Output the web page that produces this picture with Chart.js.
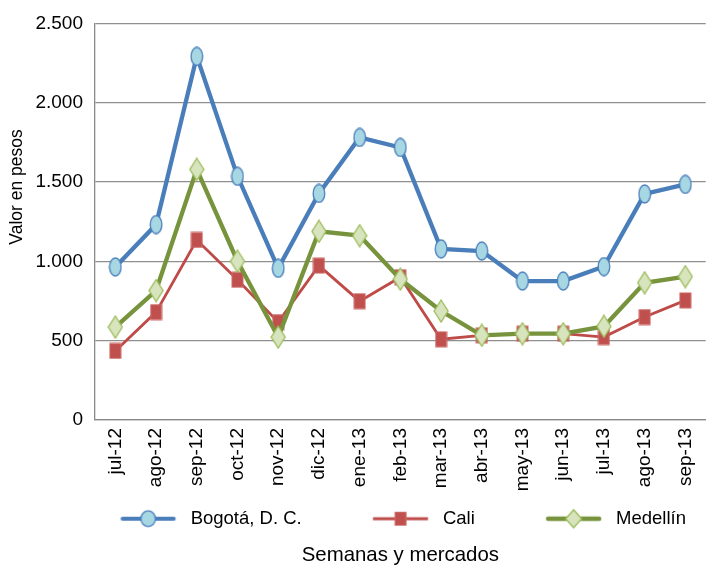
<!DOCTYPE html>
<html>
<head>
<meta charset="utf-8">
<script src="https://cdn.jsdelivr.net/npm/chart.js@4.4.1/dist/chart.umd.min.js"></script>
<style>
  html, body { margin: 0; padding: 0; background: #ffffff; overflow: hidden; width: 712px; height: 566px; }
  #wrap { width: 717px; height: 566px; }
</style>
</head>
<body>
<div id="wrap"><canvas id="c" width="717" height="566"></canvas></div>
<script>
// ---- data ----
const categories = ['jul-12','ago-12','sep-12','oct-12','nov-12','dic-12','ene-13','feb-13','mar-13','abr-13','may-13','jun-13','jul-13','ago-13','sep-13'];
const bogota   = [965, 1232, 2292, 1536, 956, 1428, 1781, 1718, 1079, 1065, 876, 876, 967, 1425, 1485];
const cali     = [435, 680, 1135, 884, 617, 973, 749, 900, 509, 534, 544, 544, 523, 649, 754];
const medellin = [586, 816, 1580, 1001, 523, 1189, 1162, 888, 687, 534, 544, 544, 590, 865, 904];
const seriesNames = ['Bogotá, D. C.', 'Cali', 'Medellín'];
const yTickLabels = ['0', '500', '1.000', '1.500', '2.000', '2.500'];
const yAxisTitle = 'Valor en pesos';
const xAxisTitle = 'Semanas y mercados';

const FONT = '"Liberation Sans", Arial, sans-serif';

// ---- marker images (style only) ----
function makeCanvas(w, h) { const c = document.createElement('canvas'); c.width = w; c.height = h; return c; }
function drawEllipse(ctx, cx, cy, rx, ry, fill, stroke, lw) {
  ctx.beginPath(); ctx.ellipse(cx, cy, rx, ry, 0, 0, Math.PI * 2);
  ctx.fillStyle = fill; ctx.fill(); ctx.lineWidth = lw; ctx.strokeStyle = stroke; ctx.stroke();
}
function drawRect(ctx, cx, cy, w, h, fill, stroke, lw) {
  ctx.fillStyle = fill; ctx.fillRect(cx - w / 2, cy - h / 2, w, h);
  ctx.lineWidth = lw; ctx.strokeStyle = stroke; ctx.strokeRect(cx - w / 2, cy - h / 2, w, h);
}
function drawDiamond(ctx, cx, cy, w, h, fill, stroke, lw) {
  ctx.beginPath(); ctx.moveTo(cx, cy - h / 2); ctx.lineTo(cx + w / 2, cy); ctx.lineTo(cx, cy + h / 2); ctx.lineTo(cx - w / 2, cy); ctx.closePath();
  ctx.fillStyle = fill; ctx.fill(); ctx.lineWidth = lw; ctx.strokeStyle = stroke; ctx.stroke();
}
const COL = {
  bLine: '#4A7EBB', bFill: '#A7D7E3',
  cLine: '#BE4B48', cFill: '#C0504D', cBorder: '#CC6A67',
  mLine: '#77933C', mFill: '#D7E4BD', mBorder: '#9BBB59'
};
// data point markers
const ptB = makeCanvas(14, 20); drawEllipse(ptB.getContext('2d'), 7, 10, 5.8, 9, COL.bFill, COL.bLine, 1.3);
const ptC = makeCanvas(13, 17); drawRect(ptC.getContext('2d'), 6.5, 8.5, 11, 15, COL.cFill, COL.cBorder, 1);
const ptM = makeCanvas(16, 24); drawDiamond(ptM.getContext('2d'), 8, 12, 14, 22, COL.mFill, COL.mBorder, 1.3);

// legend symbols: line + marker, drawn at right part of box
const LEG_W = 101;
function legendSymbol(kind) {
  const c = makeCanvas(LEG_W, 24); const ctx = c.getContext('2d');
  const x0 = LEG_W - 60.75, x1 = LEG_W - 5.75, cy = 12, mid = (x0 + x1) / 2;
  ctx.lineCap = 'round';
  if (kind === 0) {
    ctx.strokeStyle = COL.bLine; ctx.lineWidth = 4.2; ctx.beginPath(); ctx.moveTo(x0 + 2, cy); ctx.lineTo(x1 - 2, cy); ctx.stroke();
    drawEllipse(ctx, mid, cy, 7.3, 7.8, COL.bFill, COL.bLine, 1.3);
  } else if (kind === 1) {
    ctx.lineCap = 'butt';
    ctx.strokeStyle = COL.cLine; ctx.lineWidth = 3.2; ctx.beginPath(); ctx.moveTo(x0, cy); ctx.lineTo(x1, cy); ctx.stroke();
    drawRect(ctx, mid, cy, 11, 13, COL.cFill, COL.cBorder, 1);
  } else {
    ctx.strokeStyle = COL.mLine; ctx.lineWidth = 4.5; ctx.beginPath(); ctx.moveTo(x0 + 2, cy); ctx.lineTo(x1 - 2, cy); ctx.stroke();
    drawDiamond(ctx, mid, cy, 16, 18, COL.mFill, COL.mBorder, 1.3);
  }
  return c;
}
const legendSymbols = [legendSymbol(0), legendSymbol(1), legendSymbol(2)];

// y axis title drawn as rotated text
const yTitlePlugin = {
  id: 'yTitle',
  afterDraw(chart) {
    const ctx = chart.ctx;
    ctx.save();
    ctx.translate(17, 187);
    ctx.rotate(-Math.PI / 2);
    ctx.font = '17.5px ' + FONT;
    ctx.fillStyle = '#000000';
    ctx.textAlign = 'center';
    ctx.textBaseline = 'middle';
    ctx.fillText(yAxisTitle, 0, 0);
    ctx.restore();
  }
};

new Chart(document.getElementById('c'), {
  type: 'line',
  data: {
    labels: categories,
    datasets: [
      { label: seriesNames[0], data: bogota, order: 1, borderColor: COL.bLine, borderWidth: 4.3, pointStyle: ptB, pointRadius: 7, tension: 0 },
      { label: seriesNames[1], data: cali, order: 3, borderColor: COL.cLine, borderWidth: 2.8, pointStyle: ptC, pointRadius: 7, tension: 0 },
      { label: seriesNames[2], data: medellin, order: 2, borderColor: COL.mLine, borderWidth: 4.3, pointStyle: ptM, pointRadius: 7, tension: 0 }
    ]
  },
  options: {
    responsive: false,
    animation: false,
    layout: { padding: { top: 22, left: 0, right: 0, bottom: 0 } },
    scales: {
      x: {
        offset: true,
        grid: { display: true, color: 'rgba(0,0,0,0)', drawTicks: false, offset: true },
        border: { display: true, color: '#8a8a8a', width: 1.3 },
        ticks: { autoSkip: false, minRotation: 90, maxRotation: 90, padding: 8, color: '#000000', font: { family: FONT, size: 19 } },
        afterFit(s) {
          s.height = 58.5; s.paddingLeft = 0; s.paddingRight = 0;
          // let the rotated labels extend below the (shortened) axis box
          s._computeLabelArea = function () { return undefined; };
        }
      },
      y: {
        min: 0, max: 2500,
        grid: { color: '#8f8f8f', lineWidth: 1.3, drawTicks: false },
        border: { display: true, color: '#8a8a8a', width: 1.3 },
        ticks: { stepSize: 500, padding: 12, color: '#000000', font: { family: FONT, size: 19 },
          callback: (v, i) => yTickLabels[i] },
        afterFit(s) { s.width = 95; }
      }
    },
    plugins: {
      tooltip: { enabled: false },
      legend: {
        position: 'bottom',
        align: 'end',
        fullSize: true,
        labels: {
          usePointStyle: true,
          pointStyleWidth: LEG_W,
          padding: 31,
          color: '#000000',
          font: { family: FONT, size: 18.5 },
          generateLabels: (chart) => chart.data.datasets.map((ds, i) => ({
            text: ds.label, pointStyle: legendSymbols[i], fillStyle: 'rgba(0,0,0,0)', strokeStyle: 'rgba(0,0,0,0)',
            lineWidth: 0, hidden: false, datasetIndex: i, fontColor: '#000000'
          }))
        }
      },
      title: {
        display: true,
        text: xAxisTitle,
        position: 'bottom',
        fullSize: false,
        color: '#000000',
        font: { family: FONT, size: 20.4, weight: 'normal', lineHeight: 1 },
        padding: { top: 7.6, bottom: 0 }
      }
    }
  },
  plugins: [yTitlePlugin]
});
</script>
</body>
</html>
